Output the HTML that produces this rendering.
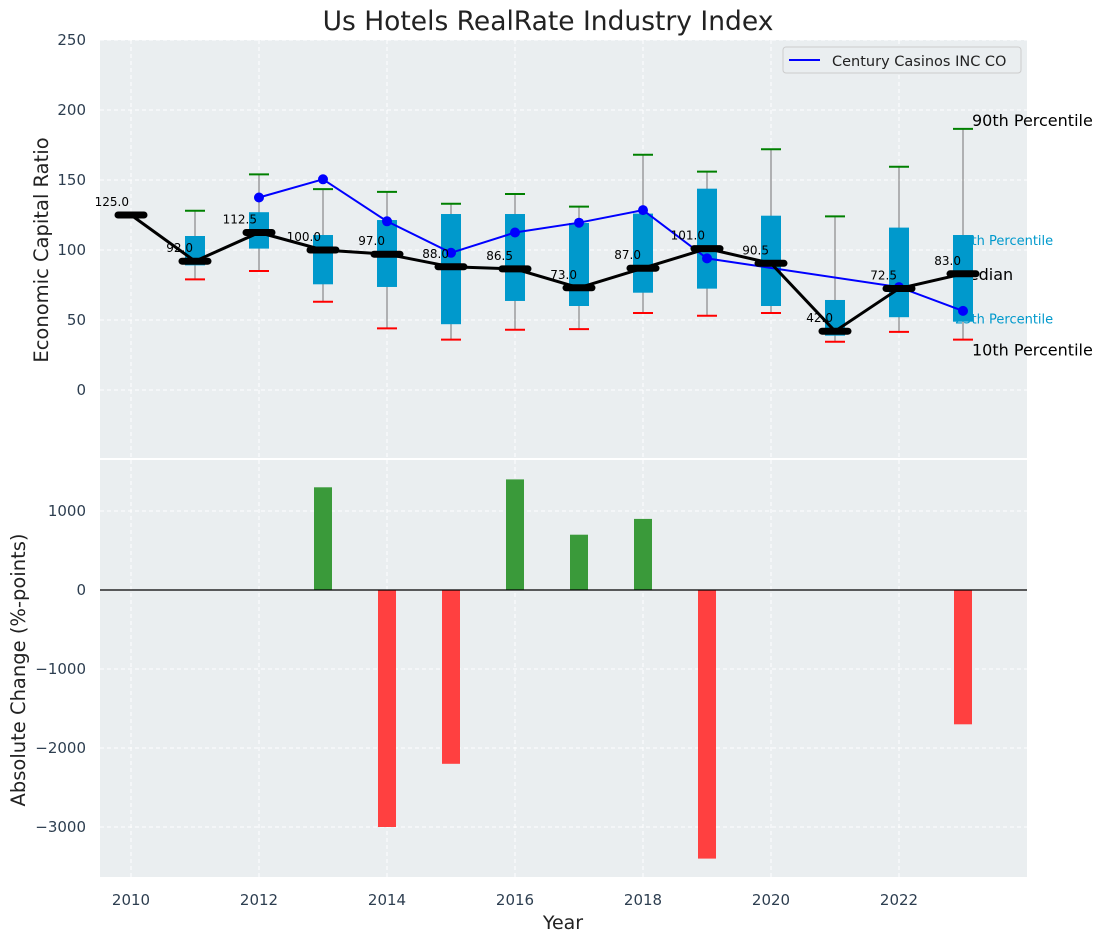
<!DOCTYPE html>
<html><head><meta charset="utf-8"><style>
body{margin:0;background:#fff;font-family:"DejaVu Sans","Liberation Sans",sans-serif}
svg text{font-family:"DejaVu Sans","Liberation Sans",sans-serif}
</style></head><body>
<svg id="chart" width="1107" height="942" xmlns="http://www.w3.org/2000/svg">
<text x="548" y="30" font-size="26.5" text-anchor="middle" fill="#222">Us Hotels RealRate Industry Index</text>
<rect x="100" y="40" width="927" height="418" fill="#eaeef0"/>
<rect x="100" y="460" width="927" height="417" fill="#eaeef0"/>
<g id="gtop"></g><g id="gbot"></g>
<text transform="translate(48,250) rotate(-90)" font-size="19.5" text-anchor="middle" fill="#222">Economic Capital Ratio</text>
<text transform="translate(25,670) rotate(-90)" font-size="19.5" text-anchor="middle" fill="#222">Absolute Change (%-points)</text>
<text x="563" y="929" font-size="19" text-anchor="middle" fill="#222">Year</text>
<g>
<rect x="783" y="47" width="238" height="26" rx="3" fill="#eaeef0" stroke="#ccc"/>
<line x1="789" y1="60" x2="820" y2="60" stroke="#0000ff" stroke-width="2"/>
<text x="832" y="66" font-size="14.5" fill="#222">Century Casinos INC CO</text>
</g>
</svg>
<script>
const years=[2010,2011,2012,2013,2014,2015,2016,2017,2018,2019,2020,2021,2022,2023];
const medians=[125,92,112.5,100,97,88,86.5,73,87,101,90.5,42,72.5,83];
const q1=[null,89,101,75.5,73.6,47,63.6,60,69.5,72.4,60,38.8,52,48.8];
const q3=[null,110,127,110.7,121.4,125.7,125.7,119.3,126,143.8,124.5,64.3,116,110.7];
const p10=[null,79,85,63,44,36,43,43.5,55,53,55,34.5,41.5,36];
const p90=[null,128,154,143.5,141.5,133,140,131,168,156,172,124,159.5,186.5];
const compYears=[2012,2013,2014,2015,2016,2017,2018,2019,2022,2023];
const compVals=[137.5,150.5,120.5,98,112.5,119.5,128.5,94,73.5,56.5];
const chgYears=[2013,2014,2015,2016,2017,2018,2019,2023];
const chgVals=[1300,-3000,-2200,1400,700,900,-3400,-1700];
const yTicksTop=[0,50,100,150,200,250];
const yTicksBot=[-3000,-2000,-1000,0,1000];
const xTicks=[2010,2012,2014,2016,2018,2020,2022];

const NS="http://www.w3.org/2000/svg";
const X=v=>131+(v-2010)*64;
const YT=v=>390-v*1.4;
const YB=v=>590-v*0.079;
function mk(p,tag,a,txt){const e=document.createElementNS(NS,tag);for(const k in a)e.setAttribute(k,a[k]);if(txt!==undefined)e.textContent=txt;p.appendChild(e);return e;}
const gTop=document.getElementById('gtop'),gBot=document.getElementById('gbot');
const tc="#2d3e50";
xTicks.forEach(t=>{
  let g=mk(gTop,'line',{x1:X(t),x2:X(t),y1:40,y2:458,stroke:'#fff','stroke-dasharray':'4,3','stroke-width':1});
  
  
  g=mk(gBot,'line',{x1:X(t),x2:X(t),y1:460,y2:877,stroke:'#fff','stroke-dasharray':'4,3','stroke-width':1});
  
  
  const l=mk(gBot,'text',{x:X(t),y:905,'font-size':15,'text-anchor':'middle',fill:tc},String(t));
  
  
});
yTicksTop.forEach(t=>{
  const g=mk(gTop,'line',{x1:100,x2:1027,y1:YT(t),y2:YT(t),stroke:'#fff','stroke-dasharray':'4,3'});
  
  
  const l=mk(gTop,'text',{x:86,y:YT(t)+5,'font-size':15,'text-anchor':'end',fill:tc},String(t));
  
  
});
yTicksBot.forEach(t=>{
  const g=mk(gBot,'line',{x1:100,x2:1027,y1:YB(t),y2:YB(t),stroke:'#fff','stroke-dasharray':'4,3'});
  
  
  const l=mk(gBot,'text',{x:86,y:YB(t)+5,'font-size':15,'text-anchor':'end',fill:tc},(t<0?'\u2212'+(-t):String(t)));
  
  
});
const last=years.length-1,lx=X(years[last]);
[["90th Percentile",p90[last],"#000",16,-3,9],["10th Percentile",p10[last],"#000",16,16,9],["75th Percentile",q3[last],"#0099cc",13,10,-8],["25th Percentile",q1[last],"#0099cc",13,2,-8],["Median",medians[last],"#000",16,6,-8]].forEach(d=>{
  const l=mk(gTop,'text',{x:lx+d[5],y:YT(d[1])+d[4],'font-size':d[3],fill:d[2]},d[0]);
  
  
});
years.forEach((y,i)=>{
  if(p10[i]==null)return;
  const x=X(y);
  let e=mk(gTop,'line',{x1:x,x2:x,y1:YT(p90[i]),y2:YT(p10[i]),stroke:'#888','stroke-width':1.2});
  
  
  e=mk(gTop,'line',{x1:x-10,x2:x+10,y1:YT(p90[i]),y2:YT(p90[i]),stroke:'#008000','stroke-width':2});
  
  
  e=mk(gTop,'line',{x1:x-10,x2:x+10,y1:YT(p10[i]),y2:YT(p10[i]),stroke:'#ff0000','stroke-width':2});
  
  
  e=mk(gTop,'rect',{x:x-10,y:YT(q3[i]),width:20,height:YT(q1[i])-YT(q3[i]),fill:'#0099cc'});
  
  
});
let pts=compYears.map((y,i)=>X(y)+','+YT(compVals[i])).join(' ');
let cl=mk(gTop,'polyline',{points:pts,fill:'none',stroke:'#0000ff','stroke-width':2});


compYears.forEach((y,i)=>{const c=mk(gTop,'circle',{cx:X(y),cy:YT(compVals[i]),r:5,fill:'#0000ff'});
  
  });
pts=years.map((y,i)=>X(y)+','+YT(medians[i])).join(' ');
let ml=mk(gTop,'polyline',{points:pts,fill:'none',stroke:'#000','stroke-width':3});


years.forEach((y,i)=>{
  const x=X(y),yy=YT(medians[i]);
  const m=mk(gTop,'line',{x1:x-13,x2:x+13,y1:yy,y2:yy,stroke:'#000','stroke-width':7,'stroke-linecap':'round'});
  
  
  const t=mk(gTop,'text',{x:x-2,y:yy-9,'font-size':12,'text-anchor':'end',fill:'#000'},medians[i].toFixed(1));
  
  
});
chgYears.forEach((y,i)=>{
  const v=chgVals[i],y0=YB(0),y1=YB(v);
  const b=mk(gBot,'rect',{x:X(y)-9,y:Math.min(y0,y1),width:18,height:Math.abs(y1-y0),fill:v>=0?'#3a9a3a':'#ff4040'});
  
  
});
const z=mk(gBot,'line',{x1:100,x2:1027,y1:YB(0),y2:YB(0),stroke:'#000','stroke-width':1.2});


</script>
</body></html>
